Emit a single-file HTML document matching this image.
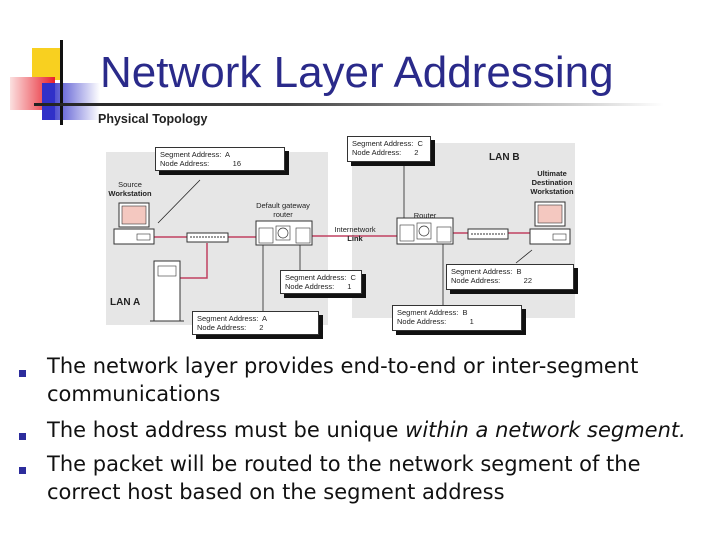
<!DOCTYPE html>
<html><head><meta charset="utf-8"><style>
body{margin:0;width:720px;height:540px;background:#fff;position:relative;overflow:hidden;font-family:"Liberation Sans",sans-serif}
.a{position:absolute}
.cb{position:absolute;background:#fff;border:1px solid #333;box-shadow:4px 4px 0 #111;font-size:7.5px;line-height:9px;padding:2px 4px;color:#222;box-sizing:border-box;white-space:nowrap;overflow:visible}
.cb span{display:inline-block;width:56px}
.lbl{position:absolute;font-size:7.5px;color:#222;text-align:center;line-height:9px}
.bt{position:absolute;left:47px;font-family:"DejaVu Sans",sans-serif;font-size:21px;color:#111;line-height:28px}
.bl{position:absolute;left:19px;width:7px;height:7px;background:#2c2c9c}
</style></head><body>
<div class="a" style="left:32px;top:48px;width:31px;height:32px;background:#f8d020"></div>
<div class="a" style="left:10px;top:77px;width:45px;height:33px;background:linear-gradient(90deg,#fbe0e0,#e8202c)"></div>
<div class="a" style="left:42px;top:83px;width:21px;height:37px;background:#3030c8"></div>
<div class="a" style="left:55px;top:83px;width:45px;height:37px;background:linear-gradient(90deg,#5050d0,#fff)"></div>
<div class="a" style="left:60px;top:40px;width:3px;height:85px;background:#111"></div>
<div class="a" style="left:34px;top:103px;width:630px;height:3px;background:linear-gradient(90deg,#222,#444 40%,#ccc 85%,#fff)"></div>
<div class="a" style="left:100px;top:48px;font-size:44px;color:#2a2a8a;white-space:nowrap">Network Layer Addressing</div>
<div class="a" style="left:98px;top:112px;font-size:12.5px;font-weight:bold;color:#222">Physical Topology</div>

<div class="a" style="left:106px;top:152px;width:222px;height:173px;background:#e6e6e6"></div>
<div class="a" style="left:352px;top:143px;width:223px;height:175px;background:#e6e6e6"></div>

<svg class="a" style="left:0;top:0" width="720" height="540">
<g stroke="#c04060" stroke-width="1.5" fill="none">
<line x1="152" y1="237" x2="187" y2="237"/><line x1="228" y1="237" x2="256" y2="237"/>
<polyline points="207,243 207,278 180,278"/>
<line x1="312" y1="236" x2="398" y2="236"/><line x1="453" y1="233" x2="468" y2="233"/><line x1="508" y1="233" x2="532" y2="233"/>
</g>
<g stroke="#222" stroke-width="0.8" fill="none">
<line x1="200" y1="180" x2="158" y2="223"/>
<line x1="404" y1="165" x2="404" y2="228"/>
<line x1="300" y1="271" x2="300" y2="237"/>
<line x1="263" y1="312" x2="263" y2="233"/>
<line x1="443" y1="305" x2="443" y2="239"/>
<line x1="516" y1="263" x2="532" y2="250"/>
</g>
<rect x="119" y="203" width="30" height="24" fill="#fff" stroke="#333"/><rect x="122" y="206" width="24" height="18" fill="#f4c8c0" stroke="#333" stroke-width=".6"/>
<rect x="114" y="229" width="40" height="15" fill="#fff" stroke="#333"/><rect x="137" y="234" width="13" height="6" fill="#fff" stroke="#333" stroke-width=".6"/>
<rect x="187" y="233" width="41" height="9" fill="#fff" stroke="#333"/><line x1="190" y1="237" x2="225" y2="237" stroke="#333" stroke-dasharray="2,1"/>
<rect x="154" y="261" width="26" height="60" fill="#fff" stroke="#333"/><rect x="158" y="266" width="18" height="10" fill="#fff" stroke="#333" stroke-width=".6"/><line x1="150" y1="321" x2="184" y2="321" stroke="#333"/>
<rect x="256" y="221" width="56" height="24" fill="#fff" stroke="#333"/><rect x="259" y="228" width="14" height="15" fill="#fff" stroke="#333" stroke-width=".6"/><rect x="276" y="226" width="14" height="14" fill="#fff" stroke="#333" stroke-width=".6"/><circle cx="283" cy="233" r="5" fill="none" stroke="#333" stroke-width=".7"/><rect x="296" y="228" width="14" height="15" fill="#fff" stroke="#333" stroke-width=".6"/>
<rect x="397" y="218" width="56" height="26" fill="#fff" stroke="#333"/><rect x="400" y="225" width="14" height="16" fill="#fff" stroke="#333" stroke-width=".6"/><rect x="417" y="223" width="14" height="16" fill="#fff" stroke="#333" stroke-width=".6"/><circle cx="424" cy="231" r="5" fill="none" stroke="#333" stroke-width=".7"/><rect x="437" y="227" width="14" height="15" fill="#fff" stroke="#333" stroke-width=".6"/>
<rect x="468" y="229" width="40" height="10" fill="#fff" stroke="#333"/><line x1="471" y1="234" x2="505" y2="234" stroke="#333" stroke-dasharray="2,1"/>
<rect x="535" y="202" width="30" height="24" fill="#fff" stroke="#333"/><rect x="538" y="205" width="24" height="18" fill="#f4c8c0" stroke="#333" stroke-width=".6"/>
<rect x="530" y="229" width="40" height="15" fill="#fff" stroke="#333"/><rect x="553" y="234" width="13" height="6" fill="#fff" stroke="#333" stroke-width=".6"/>
</svg>

<div class="cb" style="left:155px;top:147px;width:130px;height:24px">Segment Address:&nbsp; A<br><span>Node Address:</span>&nbsp;&nbsp;&nbsp;&nbsp;&nbsp;&nbsp;&nbsp; 16</div>
<div class="cb" style="left:347px;top:136px;width:84px;height:26px">Segment Address:&nbsp; C<br><span>Node Address:</span>&nbsp;&nbsp; 2</div>
<div class="cb" style="left:280px;top:270px;width:82px;height:24px">Segment Address:&nbsp; C<br><span>Node Address:</span>&nbsp;&nbsp; 1</div>
<div class="cb" style="left:192px;top:311px;width:127px;height:24px">Segment Address:&nbsp; A<br><span>Node Address:</span>&nbsp;&nbsp; 2</div>
<div class="cb" style="left:446px;top:264px;width:128px;height:26px">Segment Address:&nbsp; B<br><span>Node Address:</span>&nbsp;&nbsp;&nbsp;&nbsp;&nbsp;&nbsp;&nbsp; 22</div>
<div class="cb" style="left:392px;top:305px;width:130px;height:26px">Segment Address:&nbsp; B<br><span>Node Address:</span>&nbsp;&nbsp;&nbsp;&nbsp;&nbsp;&nbsp;&nbsp; 1</div>

<div class="lbl" style="left:104px;top:180px;width:52px">Source<br><b>Workstation</b></div>
<div class="lbl" style="left:248px;top:201px;width:70px">Default gateway<br>router</div>
<div class="lbl" style="left:330px;top:225px;width:50px">Internetwork<br><b>Link</b></div>
<div class="lbl" style="left:405px;top:211px;width:40px">Router</div>
<div class="lbl" style="left:522px;top:169px;width:60px;font-weight:bold">Ultimate<br>Destination<br>Workstation</div>
<div class="a" style="left:489px;top:152px;font-size:10px;font-weight:bold;color:#222">LAN B</div>
<div class="a" style="left:110px;top:297px;font-size:10px;font-weight:bold;color:#222">LAN A</div>

<div class="bl" style="top:370px"></div>
<div class="bl" style="top:433px"></div>
<div class="bl" style="top:467px"></div>
<div class="bt" style="top:352px;white-space:nowrap">The network layer provides end-to-end or inter-segment<br>communications</div>
<div class="bt" style="top:416px;white-space:nowrap">The host address must be unique <i>within a network segment.</i></div>
<div class="bt" style="top:450px;white-space:nowrap">The packet will be routed to the network segment of the<br>correct host based on the segment address</div>
</body></html>
